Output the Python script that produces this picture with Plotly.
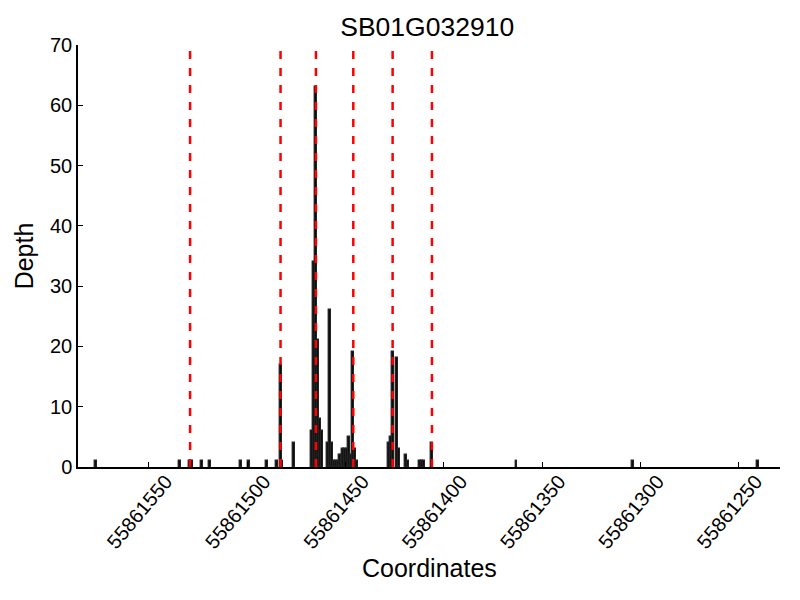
import plotly.graph_objects as go

gene_name = "SB01G032910"

coords = [
    55861577, 55861534, 55861529, 55861528, 55861523, 55861519, 55861503,
    55861499, 55861490, 55861485, 55861483, 55861482, 55861476, 55861467,
    55861466, 55861465, 55861464, 55861463, 55861462, 55861459, 55861458,
    55861457, 55861456, 55861455, 55861454, 55861453, 55861452, 55861451,
    55861450, 55861449, 55861448, 55861447, 55861446, 55861445, 55861444,
    55861428, 55861427, 55861426, 55861424, 55861423, 55861419, 55861418,
    55861412, 55861411, 55861410, 55861406, 55861363, 55861304, 55861240,
]
depths = [
    1, 1, 1, 1, 1, 1, 1,
    1, 1, 1, 17, 1, 4, 6,
    34, 63, 21, 8, 6, 4, 26,
    4, 1, 1, 1, 2, 2, 3,
    3, 3, 5, 2, 19, 3, 1,
    4, 5, 19, 18, 3, 2, 1,
    1, 1, 1, 4, 1, 1, 1,
]

# exon boundaries (red dashed lines)
boundaries = [55861529, 55861483, 55861465, 55861446, 55861426, 55861406]

x_range = [55861586, 55861229]
y_ticks = [0, 10, 20, 30, 40, 50, 60, 70]

font = "Liberation Sans, Arial, sans-serif"

fig = go.Figure(go.Bar(
    x=coords,
    y=depths,
    width=1,
    marker=dict(color="black", line=dict(color="#222", width=1.4)),
    showlegend=False,
))

for b in boundaries:
    fig.add_vline(x=b, line=dict(color="red", width=2.5, dash="8px,9px"))

# the page body adds an 8px offset, so margins are reduced by 8
fig.update_layout(
    width=800,
    height=600,
    paper_bgcolor="white",
    plot_bgcolor="white",
    margin=dict(l=70, r=28, t=37, b=141),
    font=dict(family=font, color="black"),
    title=dict(text=gene_name, x=0.524, xanchor="center", y=0.968,
               yanchor="middle", font=dict(size=26.5)),
    bargap=0,
)

fig.add_annotation(
    text="Coordinates", xref="paper", yref="paper", x=0.5, y=-0.239,
    xanchor="center", yanchor="middle", showarrow=False,
    font=dict(size=25),
)

fig.update_xaxes(
    range=x_range,
    tick0=55861250,
    dtick=50,
    tickformat="d",
    tickangle=-50,
    ticklabelshift=-17,
    ticklabelstandoff=-7,
    ticks="inside",
    ticklen=5,
    tickcolor="black",
    tickfont=dict(size=20),
    showline=True,
    linecolor="black",
    linewidth=1.5,
    showgrid=False,
    zeroline=False,
    automargin=False,
)

fig.update_yaxes(
    range=[0, 70],
    tickvals=y_ticks,
    ticks="inside",
    ticklen=5,
    tickcolor="black",
    tickfont=dict(size=20),
    showline=True,
    linecolor="black",
    linewidth=1.5,
    showgrid=False,
    zeroline=False,
    automargin=False,
    title=dict(text="Depth", font=dict(size=25), standoff=9),
)

fig.write_html("out.html")
